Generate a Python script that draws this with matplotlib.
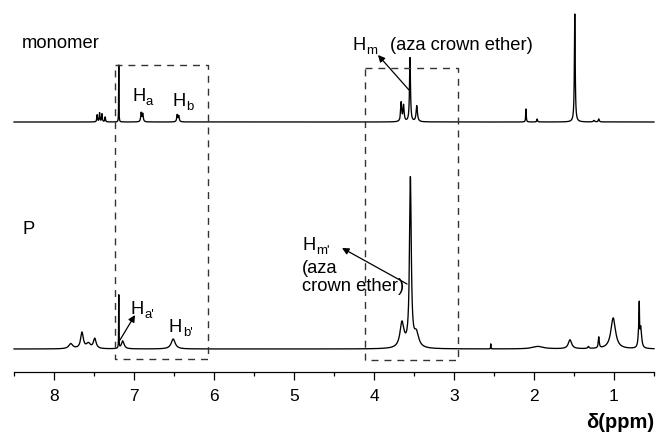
import numpy as np
import matplotlib
matplotlib.use("Agg")
import matplotlib.pyplot as plt

plt.rcParams['font.family'] = ['Liberation Sans', 'DejaVu Sans']

# ---------------- data ----------------
# monomer spectrum: peak positions (ppm), heights (a.u.), half-widths (ppm)
mono_pos = [7.46, 7.43, 7.40, 7.36, 7.19, 6.91, 6.89, 6.46, 6.44,
            3.66, 3.63, 3.55, 3.465, 2.10, 1.96, 1.49, 1.25, 1.19]
mono_h = [7, 9, 8, 5, 57, 9, 8, 7, 6,
          19, 16, 64, 16, 13, 3, 108, 1.5, 3]
mono_w = [0.005, 0.005, 0.005, 0.005, 0.002, 0.007, 0.007, 0.007, 0.007,
          0.008, 0.008, 0.007, 0.01, 0.004, 0.005, 0.006, 0.01, 0.007]

# polymer P spectrum
p_pos = [7.79, 7.65, 7.57, 7.49, 7.19, 7.14, 6.51,
         3.65, 3.545, 3.47, 2.54, 1.95, 1.55, 1.32, 1.19, 1.01,
         0.69, 0.684, 0.665]
p_h = [5, 16, 5, 10, 53, 8, 10,
       25, 168, 14, 5, 2.5, 9, 2, 11, 31,
       16, 30, 20]
p_w = [0.03, 0.02, 0.03, 0.02, 0.002, 0.02, 0.03,
       0.03, 0.013, 0.035, 0.002, 0.08, 0.025, 0.01, 0.007, 0.035,
       0.01, 0.003, 0.012]

mono_offset = 250
p_offset = 23

major_ticks = [1, 2, 3, 4, 5, 6, 7, 8]
minor_ticks = [0.5, 1.5, 2.5, 3.5, 4.5, 5.5, 6.5, 7.5, 8.5]

# dashed boxes (ppm left, ppm right, y bottom, y top)
box1 = (7.24, 6.075, 13, 307)
box2 = (4.11, 2.95, 12, 304)


def spectrum(x, pos, h, w):
    y = np.zeros_like(x)
    for p0, h0, w0 in zip(pos, h, w):
        y += h0 / (1.0 + ((x - p0) / w0) ** 2)
    return y


W, H = 659, 434
fig = plt.figure(figsize=(W / 100, H / 100), dpi=100)
ax = fig.add_axes([14 / W, (H - 372) / H, 640 / W, 372 / H])

x = np.linspace(0.5, 8.5, 16001)
ax.plot(x, mono_offset + spectrum(x, mono_pos, mono_h, mono_w), color='k', lw=0.95, clip_on=False)
ax.plot(x, p_offset + spectrum(x, p_pos, p_h, p_w), color='k', lw=0.95, clip_on=False)

for (xl, xr, yb, yt) in (box1, box2):
    ax.plot([xl, xr, xr, xl, xl], [yt, yt, yb, yb, yt], color='#333333', lw=1.0,
            linestyle=(0, (5, 4.3)), clip_on=False)

ax.set_xlim(8.5, 0.5)
ax.set_ylim(0, 372)
for s in ('left', 'right', 'top'):
    ax.spines[s].set_visible(False)
ax.spines['bottom'].set_linewidth(0.9)
ax.set_yticks([])
ax.set_xticks(major_ticks)
ax.set_xticks(minor_ticks, minor=True)
ax.tick_params(axis='x', which='major', direction='out', length=6, width=0.9,
               labelsize=12.5, pad=6)
ax.tick_params(axis='x', which='minor', direction='out', length=3, width=0.9)

fs = 13.2


def hlabel(xp, yb, sub):
    t = ax.text(xp, yb, 'H', fontsize=fs, ha='left', va='baseline')
    ax.annotate(sub, xy=(1, 0), xycoords=t, xytext=(0.3, 0), textcoords='offset points',
                fontsize=fs * 0.72, ha='left', va='baseline')


ax.text(8.4, 329, 'monomer', fontsize=fs, ha='left', va='center')
ax.text(8.4, 138, 'P', fontsize=fs, ha='left', va='baseline')

hlabel(7.025, 271, 'a')
hlabel(6.525, 266, 'b')
hlabel(4.275, 322, 'm')
ax.text(3.8, 322, '(aza crown ether)', fontsize=fs, ha='left', va='baseline')

hlabel(4.9, 122, "m'")
ax.text(4.9, 99, '(aza', fontsize=fs, ha='left', va='baseline')
ax.text(4.9, 81, 'crown ether)', fontsize=fs, ha='left', va='baseline')

hlabel(7.0375, 58, "a'")
hlabel(6.5625, 40, "b'")

arrow = dict(arrowstyle='-|>', color='k', lw=0.9, mutation_scale=10, shrinkA=0, shrinkB=0)
ax.annotate('', xy=(3.95, 317), xytext=(3.5625, 282), arrowprops=arrow)
ax.annotate('', xy=(4.4, 124), xytext=(3.5875, 88), arrowprops=arrow)
ax.annotate('', xy=(6.9875, 57), xytext=(7.175, 32), arrowprops=arrow)

fig.text(654 / W, 1 - 422 / H, 'δ(ppm)', fontsize=14.5, fontweight='bold',
         ha='right', va='center')

fig.savefig('out.png', dpi=100)
